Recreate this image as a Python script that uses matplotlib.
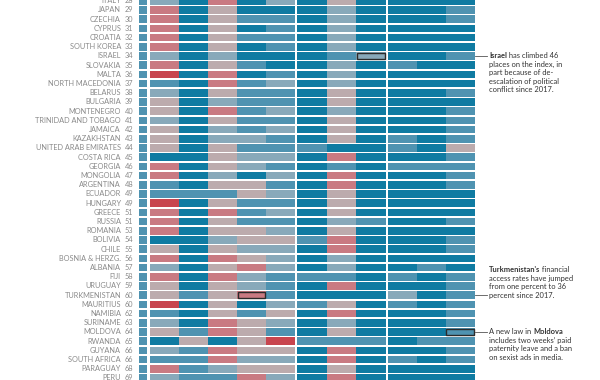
import matplotlib.pyplot as plt

plt.rcParams['font.family'] = ['Lato', 'DejaVu Sans']

# 国家、排名
countries = ['ITALY', 'JAPAN', 'CZECHIA', 'CYPRUS', 'CROATIA', 'SOUTH KOREA', 'ISRAEL',
             'SLOVAKIA', 'MALTA', 'NORTH MACEDONIA', 'BELARUS', 'BULGARIA', 'MONTENEGRO',
             'TRINIDAD AND TOBAGO', 'JAMAICA', 'KAZAKHSTAN', 'UNITED ARAB EMIRATES',
             'COSTA RICA', 'GEORGIA', 'MONGOLIA', 'ARGENTINA', 'ECUADOR', 'HUNGARY',
             'GREECE', 'RUSSIA', 'ROMANIA', 'BOLIVIA', 'CHILE', 'BOSNIA & HERZG.',
             'ALBANIA', 'FIJI', 'URUGUAY', 'TURKMENISTAN', 'MAURITIUS', 'NAMIBIA',
             'SURINAME', 'MOLDOVA', 'RWANDA', 'GUYANA', 'SOUTH AFRICA', 'PARAGUAY', 'PERU']
ranks = [28, 29, 30, 31, 32, 33, 34, 35, 36, 37, 38, 39, 40, 41, 42, 43, 44, 45, 46, 47,
         48, 49, 49, 51, 51, 53, 54, 55, 56, 57, 58, 59, 60, 60, 62, 63, 64, 65, 66, 66,
         68, 69]

# 色阶: 0 = 最好 (深蓝) ... 5 = 最差 (红)
overall = '111111111111111111111111111111111111111111'
group1 = ['20402', '40300', '40311', '40301', '40311', '40301', '20200', '40310', '50401',
          '10412', '20311', '30211', '30412', '20311', '30212', '30221', '30311', '00322',
          '40321', '40202', '10331', '11132', '50311', '40412', '40311', '40332', '00233',
          '30322', '40432', '20342', '40421', '30321', '31341', '50302', '10313', '20432',
          '31431', '03035', '21433', '11422', '41233', '21142']
group2 = ['030', '020', '020', '020', '020', '020', '012', '020', '020', '020', '030',
          '030', '020', '030', '030', '030', '100', '040', '010', '040', '040', '030',
          '030', '030', '021', '030', '140', '040', '020', '020', '110', '040', '000',
          '130', '040', '020', '030', '111', '040', '040', '030', '040']
group3 = ['000', '001', '001', '000', '000', '000', '001', '100', '000', '000', '001',
          '000', '001', '001', '001', '101', '103', '001', '111', '001', '001', '000',
          '000', '000', '001', '000', '001', '001', '000', '010', '101', '001', '201',
          '101', '001', '001', '001', '011', '001', '101', '000', '000']

palette = ['#0f7ba2', '#4f93b1', '#88a9ba', '#bcabad', '#c97a82', '#c8454e']

# 高亮单元格: (行, 组, 列)
highlights = [(6, 2, 2), (32, 1, 3), (36, 3, 2)]

fig = plt.figure(figsize=(6, 3.8), dpi=100)
ax = fig.add_axes([0, 0, 1, 1])
ax.set_xlim(0, 600)
ax.set_ylim(380, 0)
ax.axis('off')

row0, step, cell_h = 0.8, 9.2, 7.6
ys = [row0 + i * step for i in range(len(countries))]

groups = [(overall, 139, 7.5), (group1, 150, 29.0), (group2, 297.3, 29.4), (group3, 388.2, 28.8)]
cells = {}
for gi, (grp, x0, w) in enumerate(groups):
    ncol = len(grp[0])
    for c in range(ncol):
        cols = [palette[int(r[c])] for r in grp]
        ax.barh(ys, w, left=x0 + c * w, height=cell_h, color=cols, linewidth=0)
        for i in range(len(grp)):
            cells[(i, gi, c)] = (x0 + c * w, ys[i], w, cols[i])

for (i, g, c) in highlights:
    x, y, w, col = cells[(i, g, c)]
    ax.barh([y], w - 1.2, left=x + 0.6, height=cell_h - 1.2, color=col,
            edgecolor='#2b2b2b', linewidth=1.0)

label_col = '#8a8a8a'
for y, name, r in zip(ys, countries, ranks):
    ax.text(121, y, name, ha='right', va='center', fontsize=5.3, color=label_col)
    ax.text(125, y, str(r), ha='left', va='center', fontsize=5.3, color=label_col)

fig.canvas.draw()
renderer = fig.canvas.get_renderer()


def rich_line(x, y, parts):
    for txt, wt in parts:
        t = ax.text(x, y, txt, ha='left', va='center', fontsize=5.4, color='#333333',
                    fontweight=wt)
        bb = t.get_window_extent(renderer=renderer)
        x += bb.width


notes = [
    (ys[6], 0, [[('Israel', 'bold'), (' has climbed 46', 'normal')],
                [('places on the index, in', 'normal')],
                [('part because of de-', 'normal')],
                [('escalation of political', 'normal')],
                [('conflict since 2017.', 'normal')]]),
    (ys[32], 3, [[("Turkmenistan's", 'bold'), (' financial', 'normal')],
                 [('access rates have jumped', 'normal')],
                 [('from one percent to 36', 'normal')],
                 [('percent since 2017.', 'normal')]]),
    (ys[36], 0, [[('A new law in ', 'normal'), ('Moldova', 'bold')],
                 [('includes two weeks\u2019 paid', 'normal')],
                 [('paternity leave and a ban', 'normal')],
                 [('on sexist ads in media.', 'normal')]]),
]
line_gap = 8.5
for y_row, lead_idx, lines in notes:
    ax.plot([475, 487], [y_row, y_row], color='#555555', linewidth=0.6)
    top = y_row - lead_idx * line_gap
    for k, parts in enumerate(lines):
        rich_line(489, top + k * line_gap, parts)

fig.savefig('out.png', dpi=100)
